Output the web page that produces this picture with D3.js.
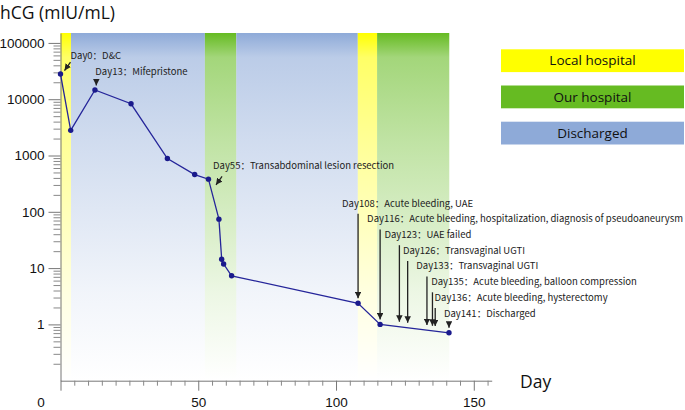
<!DOCTYPE html>
<html>
<head>
<meta charset="UTF-8">
<title>hCG</title>
<script src="https://cdn.jsdelivr.net/npm/d3@7"></script>
<style>
  body { margin: 0; background: #fff; }
  svg { display: block; }
</style>
</head>
<body>
<script>
// hCG measurements (day, mIU/mL)
var days = [0, 3.7, 12.5, 25.6, 38.8, 48.7, 53.7, 57.5, 58.5, 59.2, 62.1, 108, 116, 141];
var hcg = [28000, 2800, 14600, 8300, 885, 459, 380, 74, 14.4, 11.8, 7.3, 2.37, 1.0, 0.71];

// where the patient was
var bandStart = [0, 3.8, 52.4, 63.8, 107.9, 114.9];
var bandEnd = [3.8, 52.4, 63.8, 107.9, 114.9, 141.1];
var bandType = ["local", "discharged", "our", "discharged", "local", "our"];

var legendKeys = ["local", "our", "discharged"];
var legendNames = ["Local hospital", "Our hospital", "Discharged"];

// events
var annDays = [0, 13, 55, 108, 116, 123, 126, 133, 135, 136, 141];
var annTexts = [
  "Day0：D&C",
  "Day13：Mifepristone",
  "Day55：Transabdominal lesion resection",
  "Day108：Acute bleeding, UAE",
  "Day116：Acute bleeding, hospitalization, diagnosis of pseudoaneurysm",
  "Day123：UAE failed",
  "Day126：Transvaginal UGTI",
  "Day133：Transvaginal UGTI",
  "Day135：Acute bleeding, balloon compression",
  "Day136：Acute bleeding, hysterectomy",
  "Day141：Discharged"
];

var xTicks = [0, 50, 100, 150];
var yTicks = [1, 10, 100, 1000, 10000, 100000];

var W = 685, H = 410;
var colors = { local: "#ffff00", our: "#66bb22", discharged: "#8eaad8" };

var svg = d3.select("body").append("svg").attr("width", W).attr("height", H);

var x = d3.scaleLinear().domain([0, 156.5]).range([60.5, 491.7]);
var y = d3.scaleLog().domain([0.1, 150000]).range([380.7, 33]);

// gradients for the background bands
var defs = svg.append("defs");
Object.keys(colors).forEach(function (k) {
  var g = defs.append("linearGradient").attr("id", "g-" + k)
    .attr("x1", 0).attr("y1", 0).attr("x2", 0).attr("y2", 1);
  [[0, 1], [0.07, 0.6], [0.3, 0.42], [0.75, 0.12], [1, 0]].forEach(function (s) {
    g.append("stop").attr("offset", s[0]).attr("stop-color", colors[k]).attr("stop-opacity", s[1]);
  });
});
defs.append("marker").attr("id", "arr")
  .attr("viewBox", "0 0 10 10").attr("refX", 10).attr("refY", 5)
  .attr("markerWidth", 5).attr("markerHeight", 5).attr("orient", "auto")
  .append("path").attr("d", "M0,0L10,5L0,10z").attr("fill", "#222");

svg.selectAll("rect.band")
  .data(bandStart)
  .enter().append("rect").attr("class", "band")
  .attr("x", function (d) { return x(d); })
  .attr("width", function (d, i) { return x(bandEnd[i]) - x(d); })
  .attr("y", y.range()[1])
  .attr("height", y.range()[0] - y.range()[1])
  .attr("fill", function (d, i) { return "url(#g-" + bandType[i] + ")"; });

// axes
var minorY = [];
for (var e = -1; e <= 5; e++) {
  for (var k = 2; k <= 9; k++) {
    var v = k * Math.pow(10, e);
    if (v < 150000) minorY.push(v);
  }
}
var minorX = d3.range(5, 156, 5).filter(function (d) { return d % 50 !== 0; });

var yAxis = svg.append("g").attr("transform", "translate(" + x(0) + ",0)")
  .call(d3.axisLeft(y).tickValues(yTicks).tickSize(12).tickSizeOuter(0)
    .tickFormat(d3.format("d")));
yAxis.select(".domain").attr("stroke", "#777");
yAxis.selectAll(".tick line").attr("stroke", "#777");
yAxis.selectAll(".tick text")
  .attr("x", -16).attr("fill", "#111")
  .style("font", "13.5px 'Liberation Sans', Arial, sans-serif");

var yMinor = svg.append("g").attr("transform", "translate(" + x(0) + ",0)")
  .call(d3.axisLeft(y).tickValues(minorY).tickSize(7).tickFormat(""));
yMinor.select(".domain").remove();
yMinor.selectAll(".tick line").attr("stroke", "#888");

var xAxis = svg.append("g").attr("transform", "translate(0," + y(0.1) + ")")
  .call(d3.axisBottom(x).tickValues(xTicks).tickSize(10).tickSizeOuter(0));
xAxis.select(".domain").attr("stroke", "#777");
xAxis.selectAll(".tick line").attr("stroke", "#777");
xAxis.selectAll(".tick text")
  .attr("y", 22).attr("dy", "0.32em").attr("fill", "#111")
  .attr("dx", function (d) { return d === 0 ? -20 : 0; })
  .style("font", "13.5px 'Liberation Sans', Arial, sans-serif");

var xMinor = svg.append("g").attr("transform", "translate(0," + y(0.1) + ")")
  .call(d3.axisBottom(x).tickValues(minorX).tickSize(5).tickFormat(""));
xMinor.select(".domain").remove();
xMinor.selectAll(".tick line").attr("stroke", "#888");

// titles
svg.append("text").attr("x", 0).attr("y", 18.5)
  .style("font", "17.5px 'Open Sans', sans-serif").attr("fill", "#111")
  .text("hCG (mIU/mL)");
svg.append("text").attr("x", 520).attr("y", 388)
  .style("font", "17.5px 'Open Sans', sans-serif").attr("fill", "#111")
  .text("Day");

// hCG line
var line = d3.line()
  .x(function (d, i) { return x(days[i]); })
  .y(function (d) { return y(d); });
svg.append("path").datum(hcg)
  .attr("d", line).attr("fill", "none")
  .attr("stroke", "#25259a").attr("stroke-width", 1.3);
svg.selectAll("circle.pt").data(hcg).enter().append("circle").attr("class", "pt")
  .attr("cx", function (d, i) { return x(days[i]); })
  .attr("cy", function (d) { return y(d); })
  .attr("r", 2.7).attr("fill", "#1a1a8c");

// value on the line at a given day (log interpolation)
function lineY(day) {
  var i = d3.bisectRight(days, day);
  if (i <= 0) return y(hcg[0]);
  if (i >= days.length) return y(hcg[hcg.length - 1]);
  var t = (day - days[i - 1]) / (days[i] - days[i - 1]);
  return y(hcg[i - 1]) + t * (y(hcg[i]) - y(hcg[i - 1]));
}

// annotation layout: label offset from the arrow, label row
var labelDx = [10, -1, 1, -16, -13, -15, -4.7, -10.7, -1.3, -0.7, -5];
var labelY = [55.7, 72, 166];
for (var r = 0; r < 8; r++) labelY.push(203.3 + r * 15.7);

var ann = svg.append("g");
annDays.forEach(function (d, i) {
  var ax = x(d), x1, y1, x2, y2;
  if (i === 0 || i === 2) {
    x2 = ax + 4; y2 = (i === 0 ? lineY(d) - 3.5 : lineY(d) - 8);
    x1 = x2 + 6; y1 = y2 - 8.5;
  } else {
    x1 = x2 = ax;
    y1 = labelY[i] + (i === 1 ? 7 : 10.5);
    y2 = lineY(d) - 5;
  }
  ann.append("line")
    .attr("x1", x1).attr("y1", y1).attr("x2", x2).attr("y2", y2)
    .attr("stroke", "#222").attr("stroke-width", 1.3)
    .attr("marker-end", "url(#arr)");
  ann.append("text")
    .attr("x", ax + labelDx[i]).attr("y", labelY[i]).attr("dy", "0.35em")
    .style("font", "9.5px 'Noto Sans CJK SC', sans-serif").attr("fill", "#222")
    .text(annTexts[i]);
});

// legend
var lg = svg.append("g").selectAll("g").data(legendKeys).enter().append("g")
  .attr("transform", function (d, i) { return "translate(501," + (49.3 + i * 36.2) + ")"; });
lg.append("rect").attr("width", 183).attr("height", 22.8)
  .attr("fill", function (d) { return colors[d]; });
lg.append("text").attr("x", 91.5).attr("y", 11.4).attr("dy", "0.35em")
  .attr("text-anchor", "middle").attr("fill", "#111")
  .style("font", "13.5px 'Open Sans', sans-serif")
  .text(function (d, i) { return legendNames[i]; });
</script>
</body>
</html>
